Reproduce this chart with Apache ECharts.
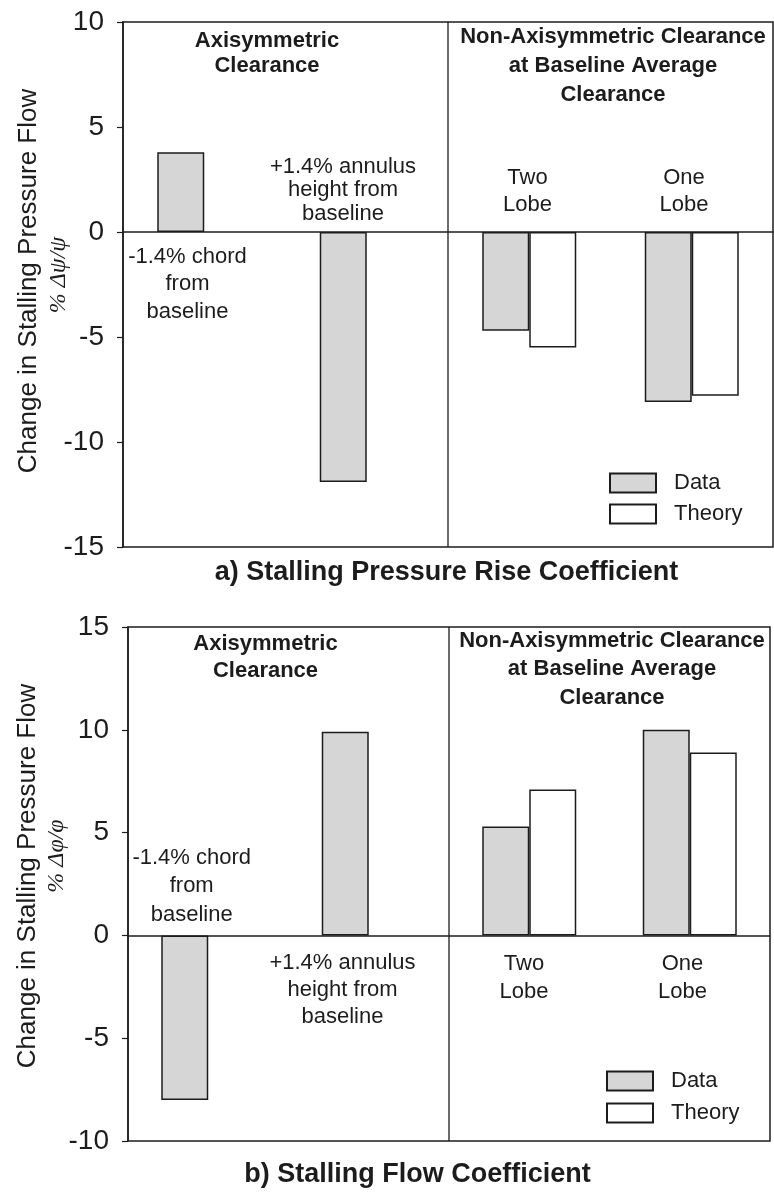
<!DOCTYPE html>
<html>
<head>
<meta charset="utf-8">
<script src="https://cdn.jsdelivr.net/npm/echarts@6/dist/echarts.min.js"></script>
<style>
  html, body { margin: 0; padding: 0; background: #ffffff; }
  #chart { width: 774px; height: 1192px; }
</style>
</head>
<body>
<div id="chart"></div>
<script>
// Clearance cases along the x axis (two axisymmetric, two non-axisymmetric)
const categories = ['-1.4% chord', '+1.4% annulus height', 'Two Lobe', 'One Lobe'];

// a) Stalling pressure rise coefficient, % Δψ/ψ
const psiData = [3.8, -11.9, -4.7, -8.1];
const psiTheory = [null, null, -5.5, -7.8];
const psiAxis = [-15, 10, 5];   // min, max, step

// b) Stalling flow coefficient, % Δφ/φ
const phiData = [-8.0, 9.9, 5.3, 10.0];
const phiTheory = [null, null, 7.1, 8.9];
const phiAxis = [-10, 15, 5];   // min, max, step

const INK = '#1c1c1c';
const STIPPLE = '#d6d6d6';
const SANS = '"Liberation Sans", Arial, Helvetica, sans-serif';
const SERIF = '"Liberation Serif", "DejaVu Serif", serif';

const chart = echarts.init(document.getElementById('chart'), null, { renderer: 'canvas' });

const grids = [
  { left: 123, top: 22, width: 650, height: 525 },
  { left: 128, top: 627, width: 642, height: 514 }
];

function xAxisFor(gi) {
  return {
    type: 'category',
    gridIndex: gi,
    data: categories,
    axisTick: { show: false },
    axisLabel: { show: false },
    axisLine: { onZero: true, lineStyle: { color: INK, width: 1.5 } },
    splitLine: { show: false }
  };
}

function yAxisFor(gi, spec) {
  return {
    type: 'value',
    gridIndex: gi,
    min: spec[0],
    max: spec[1],
    interval: spec[2],
    splitLine: { show: false },
    axisLine: { show: true, lineStyle: { color: INK, width: 1.5 } },
    axisTick: { show: true, inside: false, length: 6, lineStyle: { color: INK, width: 1.2 } },
    axisLabel: { fontSize: 28, color: INK, fontFamily: SANS, margin: 19 }
  };
}

function barSeries(name, gi, values, fill) {
  return {
    name: name,
    type: 'bar',
    xAxisIndex: gi,
    yAxisIndex: gi,
    data: values,
    barWidth: 47,
    barGap: '0%',
    itemStyle: { color: fill, borderColor: INK, borderWidth: 1.5 },
    emphasis: { disabled: true }
  };
}

function legendFor(left, top, gap) {
  return {
    orient: 'vertical',
    left: left,
    top: top,
    padding: 0,
    itemWidth: 46,
    itemHeight: 19,
    itemGap: gap,
    icon: 'rect',
    selectedMode: false,
    data: ['Data', 'Theory'],
    textStyle: { fontSize: 22, color: INK, fontFamily: SANS, lineHeight: 19, padding: [0, 0, 0, 13] }
  };
}

function label(text, x, y, opts) {
  opts = opts || {};
  const size = opts.size || 22;
  return {
    type: 'text',
    x: x,
    y: y,
    rotation: opts.rotation || 0,
    silent: true,
    style: {
      text: text,
      fill: INK,
      font: (opts.italic ? 'italic ' : '') + (opts.bold ? 'bold ' : '') + size + 'px ' + (opts.family || SANS),
      textAlign: 'center',
      textVerticalAlign: 'middle',
      lineHeight: opts.lh || 27
    }
  };
}

const annotations = [
  // a) panel
  label('Axisymmetric\nClearance', 267, 53, { bold: true, lh: 25 }),
  label('Non-Axisymmetric Clearance\nat Baseline Average\nClearance', 613, 66, { bold: true, lh: 29 }),
  label('-1.4% chord\nfrom\nbaseline', 187.5, 284, { lh: 27.5 }),
  label('+1.4% annulus\nheight from\nbaseline', 343, 190, { lh: 23.5 }),
  label('Two\nLobe', 527.5, 191.5),
  label('One\nLobe', 684, 191.5),
  label('Change in Stalling Pressure Flow', 29, 281, { size: 26, rotation: Math.PI / 2 }),
  label('% Δψ/ψ', 59, 275, { size: 24, rotation: Math.PI / 2, italic: true, family: SERIF }),
  label('a) Stalling Pressure Rise Coefficient', 446.5, 573, { size: 27, bold: true }),
  // b) panel
  label('Axisymmetric\nClearance', 265.5, 657.5, { bold: true, lh: 27 }),
  label('Non-Axisymmetric Clearance\nat Baseline Average\nClearance', 612, 669, { bold: true, lh: 28.5 }),
  label('-1.4% chord\nfrom\nbaseline', 191.7, 886, { lh: 28.5 }),
  label('+1.4% annulus\nheight from\nbaseline', 342.5, 990, { lh: 27 }),
  label('Two\nLobe', 524, 978, { lh: 27.5 }),
  label('One\nLobe', 682.5, 978, { lh: 27.5 }),
  label('Change in Stalling Pressure Flow', 28, 876, { size: 26, rotation: Math.PI / 2 }),
  label('% Δφ/φ', 57, 856, { size: 24, rotation: Math.PI / 2, italic: true, family: SERIF }),
  label('b) Stalling Flow Coefficient', 417.5, 1175, { size: 27, bold: true })
];

chart.setOption({
  animation: false,
  backgroundColor: '#ffffff',
  grid: grids.map(g => Object.assign({ show: true, borderColor: INK, borderWidth: 1.5, backgroundColor: 'transparent' }, g)),
  xAxis: [xAxisFor(0), xAxisFor(1)],
  yAxis: [yAxisFor(0, psiAxis), yAxisFor(1, phiAxis)],
  legend: [legendFor(609, 472, 9), legendFor(606, 1070, 10)],
  series: [
    barSeries('Data', 0, psiData, STIPPLE),
    barSeries('Theory', 0, psiTheory, '#ffffff'),
    barSeries('Data', 1, phiData, STIPPLE),
    barSeries('Theory', 1, phiTheory, '#ffffff')
  ],
  graphic: annotations
});

// Vertical divider between the axisymmetric and non-axisymmetric groups,
// placed on the boundary between the 2nd and 3rd category bands.
function divider(gi, spec) {
  const xa = chart.convertToPixel({ xAxisIndex: gi }, categories[1]);
  const xb = chart.convertToPixel({ xAxisIndex: gi }, categories[2]);
  const yTop = chart.convertToPixel({ yAxisIndex: gi }, spec[1]);
  const yBot = chart.convertToPixel({ yAxisIndex: gi }, spec[0]);
  const x = (xa + xb) / 2;
  return {
    type: 'line',
    silent: true,
    shape: { x1: x, y1: yTop, x2: x, y2: yBot },
    style: { stroke: INK, lineWidth: 1.3 }
  };
}

chart.setOption({
  graphic: annotations.concat([divider(0, psiAxis), divider(1, phiAxis)])
});
</script>
</body>
</html>
